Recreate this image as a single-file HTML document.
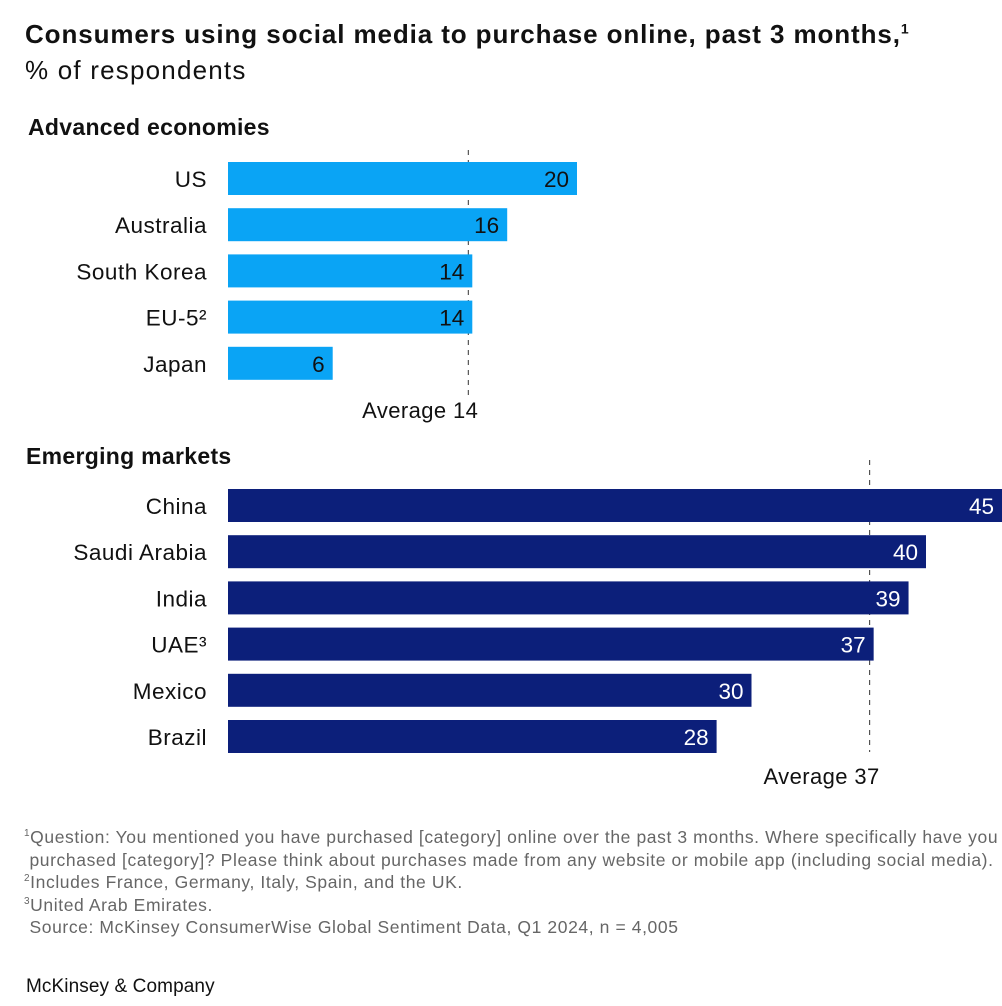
<!DOCTYPE html>
<html><head><meta charset="utf-8"><style>
body{margin:0;background:#fff;width:1002px;height:1006px;overflow:hidden;font-family:"Liberation Sans",sans-serif;color:#111}
.t{position:absolute;white-space:nowrap}
.fn div{height:22.5px}
.fn sup{font-size:10px;line-height:0}
</style></head><body>
<div class="t" style="left:25px;top:19px;font-size:26px;font-weight:bold;letter-spacing:0.9px">Consumers using social media to purchase online, past 3 months,<sup style="font-size:14px">1</sup></div>
<div class="t" style="left:25px;top:55px;font-size:26px;letter-spacing:1.2px">% of respondents</div>
<div class="t" style="left:28px;top:114px;font-size:23px;font-weight:bold;letter-spacing:0.3px">Advanced economies</div>
<div class="t" style="left:26px;top:443px;font-size:23px;font-weight:bold;letter-spacing:0.3px">Emerging markets</div>
<svg id="chart" width="1002" height="1006" style="position:absolute;left:0;top:0"></svg>
<div class="t fn" style="left:24px;top:826px;font-size:17.5px;line-height:22.5px;color:#666;letter-spacing:0.6px">
<div><sup>1</sup>Question: You mentioned you have purchased [category] online over the past 3 months. Where specifically have you</div>
<div>&nbsp;purchased [category]? Please think about purchases made from any website or mobile app (including social media).</div>
<div><sup>2</sup>Includes France, Germany, Italy, Spain, and the UK.</div>
<div><sup>3</sup>United Arab Emirates.</div>
<div>&nbsp;Source: McKinsey ConsumerWise Global Sentiment Data, Q1 2024, n = 4,005</div>
</div>
<div class="t" style="left:26px;top:976px;font-size:19px;letter-spacing:0.1px">McKinsey &amp; Company</div>
<script>
const advCategories=["US","Australia","South Korea","EU-5²","Japan"];
const advValues=[20,16,14,14,6];
const advAverage=14;
const emCategories=["China","Saudi Arabia","India","UAE³","Mexico","Brazil"];
const emValues=[45,40,39,37,30,28];
const emAverage=37;
const NS="http://www.w3.org/2000/svg";
const svg=document.getElementById('chart');
const x0=228,unit=17.45;
function x(v){return x0+v*unit;}
function mk(tag,attrs){const e=document.createElementNS(NS,tag);for(const k in attrs)e.setAttribute(k,attrs[k]);svg.appendChild(e);return e;}
function group(cats,vals,avg,top,color,txtColor,lineTop,lineBottom,avgLabelY,key){
  const ax=x(avg)-4;
  const ln=mk('line',{x1:ax,x2:ax,y1:lineTop,y2:lineBottom,stroke:'#333','stroke-width':1,'stroke-dasharray':'5,5'});
  
  
  const al=mk('text',{x:ax+10,y:avgLabelY,'text-anchor':'end','font-size':22,fill:'#111','letter-spacing':0.4});
  al.textContent='Average '+avg;
  
  
  cats.forEach((c,i)=>{
    const y=top+i*46.2;
    const r=mk('rect',{x:x0,y:y,width:x(vals[i])-x0,height:33,fill:color});
    
    
    const lb=mk('text',{x:207,y:y+25,'text-anchor':'end','font-size':22.5,fill:'#111','letter-spacing':0.5});
    lb.textContent=c;
    
    
    const vl=mk('text',{x:Math.min(x(vals[i]),1002)-8,y:y+25,'text-anchor':'end','font-size':22.5,fill:txtColor});
    vl.textContent=vals[i];
    
    
  });
}
group(advCategories,advValues,advAverage,162,'#0aa4f5','#111',150,398,418,'advanced');
group(emCategories,emValues,emAverage,489,'#0c1f7a','#fff',460,752,784,'emerging');
</script>
</body></html>
